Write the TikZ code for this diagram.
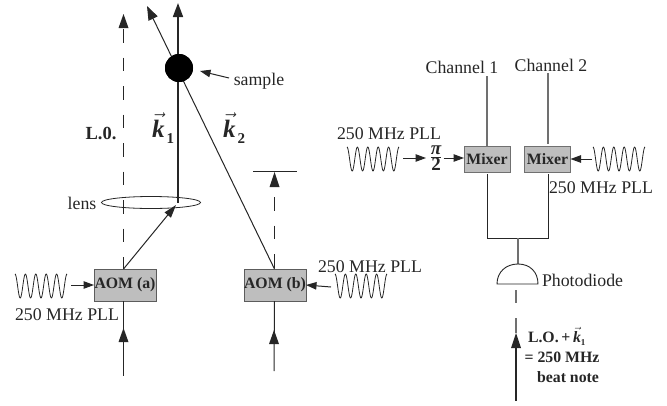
\documentclass[tikz,border=0pt]{standalone}
\usepackage{fontspec}
\setmainfont{Liberation Serif}
\usetikzlibrary{arrows.meta}
\definecolor{ink}{HTML}{262626}
\definecolor{boxfill}{HTML}{BEBEBE}
\definecolor{wire}{HTML}{707070}
\newcommand{\fs}[1]{\fontsize{#1}{#1}\selectfont}
\newcommand{\veck}{\ensuremath{\vec{\hbox{\bfseries\itshape k}}}}
\tikzset{
  every node/.style={inner sep=0pt,outer sep=0pt,text=ink},
  lab/.style={font=\fs{17.8}},
  blab/.style={font=\fs{15.8}\bfseries},
  devbox/.style={draw=ink!75,fill=boxfill,line width=0.9pt,minimum height=32pt,minimum width=62pt},
  mixbox/.style={draw=wire,fill=boxfill,line width=1pt,minimum height=26pt,minimum width=46pt,font=\fs{15.8}\bfseries},
  beam/.style={draw=ink,line width=1pt},
  thick beam/.style={draw=ink,line width=1.7pt},
  dash beam/.style={draw=ink,line width=1pt,dash pattern=on 13.5pt off 15pt},
  wirel/.style={draw=wire,line width=1.2pt},
  bigtip/.style={-{Triangle[length=14pt,width=10pt,color=ink]}},
  smalltip/.style={-{Triangle[length=10.5pt,width=7.5pt,color=ink]}},
  wavel/.style={draw=ink,line width=0.8pt,line join=round},
}
\newcommand{\wavefrom}[2]{% x, y
  \draw[wavel] plot[smooth,domain=0:52,samples=121] ({#1+\x},{#2-12*cos(34.615*\x)});}
\begin{document}
\begin{tikzpicture}[x=1pt,y=-1pt]
\useasboundingbox (0,0) rectangle (667,405);
% left part
\node[devbox] (aoma) at (125,285) {};
\node[blab] at (aoma) {AOM (a)};
\node[devbox] (aomb) at (275,285) {};
\node[blab] at (aomb) {AOM (b)};
\coordinate (atop) at (123.5,269);
\coordinate (abot) at (123.5,301);
\coordinate (btop) at (274.5,269);
\coordinate (bbot) at (274.5,301);
\coordinate (lotip) at (123.5,14);
\coordinate (lobase) at (123.5,29);
\draw[dash beam] (lobase) -- (atop);
\fill[ink] (lotip) -- (118.5,28) -- (128.5,28) -- cycle;
% sample and beams
\coordinate (focus) at (178,203);
\coordinate (k1tip) at (178,3);
\coordinate (k2tip) at (147,6);
\node[circle,fill=black,minimum size=28pt] (sample) at (179,68) {};
\draw[thick beam,bigtip] (focus) -- (k1tip);
\draw[beam,bigtip] (btop) -- (k2tip);
\node[circle,fill=black,minimum size=28pt] at (sample) {};
\draw[beam,-{Triangle[length=13pt,width=8pt,color=ink]}] (atop) -- (176,205);
\draw[ink,line width=0.8pt] (151,202.5) ellipse [x radius=49.5,y radius=6];
\coordinate (samplearrow) at (229,78);
\coordinate (sampletip) at (200,71);
\draw[beam,smalltip] (samplearrow) -- (sampletip);
\node[lab] (samplelab) at (259,81) {sample};
\node[lab] (lenslab) at (82,203) {lens};
\node[font=\fs{18.5}\bfseries] (lo) at (101,133) {L.0.};
\node[font=\fs{25},anchor=base west] (k1) at (152,137) {\veck\hspace{2pt}\raisebox{-6pt}{\fs{15}\bfseries 1}};
\node[font=\fs{25},anchor=base west] (k2) at (223,137) {\veck\hspace{2pt}\raisebox{-6pt}{\fs{15}\bfseries 2}};
% AOM b dashed
\coordinate (btip) at (274.5,172);
\coordinate (bbar1) at (253,171);
\coordinate (bbar2) at (297,171);
\draw[beam] (bbar1) -- (bbar2);
\draw[dash beam] (274.5,197) -- (btop);
\fill[ink] (btip) -- (269.5,187) -- (279.5,187) -- cycle;
% inputs from below
\coordinate (ain) at (123.5,376);
\coordinate (amid) at (123.5,328);
\coordinate (bin) at (274,371);
\coordinate (bmid) at (274,330);
\draw[beam] (abot) -- (ain);
\draw[beam] (bbot) -- (bin);
\fill[ink] (amid) -- (118.5,342) -- (128.5,342) -- cycle;
\fill[ink] (bmid) -- (269,344) -- (279,344) -- cycle;
% RF
\wavefrom{15}{286}
\wavefrom{335}{286}
\coordinate (wa) at (71,285);
\coordinate (wb) at (331,287);
\draw[beam,smalltip] (wa) -- (aoma.west);
\draw[beam,smalltip] (wb) -- (aomb.east);
\node[lab] (plla) at (67,315) {250 MHz PLL};
\node[lab] (pllb) at (370,267) {250 MHz PLL};
% right part
\node[mixbox] (mix1) at (487,159) {Mixer};
\node[mixbox] (mix2) at (547.5,159) {Mixer};
\node[lab] (ch1) at (462,67) {Channel 1};
\node[lab] (ch2) at (551,65) {Channel 2};
\coordinate (c1) at (487,76);
\coordinate (c2) at (548,73);
\draw[wirel] (c1) -- (mix1.north -| c1);
\draw[wirel] (c2) -- (548,144);
\coordinate (j1) at (487,238);
\coordinate (j2) at (548,238);
\coordinate (jm) at (518,238);
\coordinate (pdtop) at (518,264);
\draw[ink,line width=0.9pt] (487,174) -- (j1) -- (j2) -- (548,174);
\draw[wirel] (jm) -- (pdtop);
\draw[ink,line width=0.9pt] (497,284) -- (538,284) .. controls (538,272) and (530,264) .. (pdtop) .. controls (506,264) and (497,272) .. (497,284) -- cycle;
\node[lab,anchor=west] (pd) at (542,280) {Photodiode};
\wavefrom{347}{159}
\wavefrom{593}{159}
\node[font=\fs{17}\bfseries] (frac) at (436,158) {\ensuremath{\frac{\hbox{\fs{19}\bfseries\itshape π}}{\hbox{\fs{19}\bfseries 2}}}};
\coordinate (w1) at (403,158);
\coordinate (w2) at (592,159);
\draw[beam,smalltip] (w1) -- (426,158);
\draw[beam,smalltip] (443.5,158) -- (mix1.west |- 0,158);
\draw[beam,smalltip] (w2) -- (mix2.east);
\node[lab] (pll1) at (389,134) {250 MHz PLL};
\node[lab] (pll2) at (601,188) {250 MHz PLL};
\draw[wirel] (516,290) -- (516,303);
\coordinate (lotop) at (516,318);
\coordinate (lotipb) at (516,333);
\coordinate (lobot) at (516,401);
\draw[wirel] (lotop) -- (lotipb);
\draw[thick beam] (516,343) -- (lobot);
\fill[ink] (lotipb) -- (511,348) -- (521,348) -- cycle;
\node[font=\fs{15.8}\bfseries,anchor=west] (note1) at (528,336) {L.O.\,+\,\veck\raisebox{-3pt}{\fs{9}1}};
\node[font=\fs{15.8}\bfseries] (note2) at (562,357) {= 250 MHz};
\node[font=\fs{15.8}\bfseries] (note3) at (568,377) {beat note};
\end{tikzpicture}
\end{document}
